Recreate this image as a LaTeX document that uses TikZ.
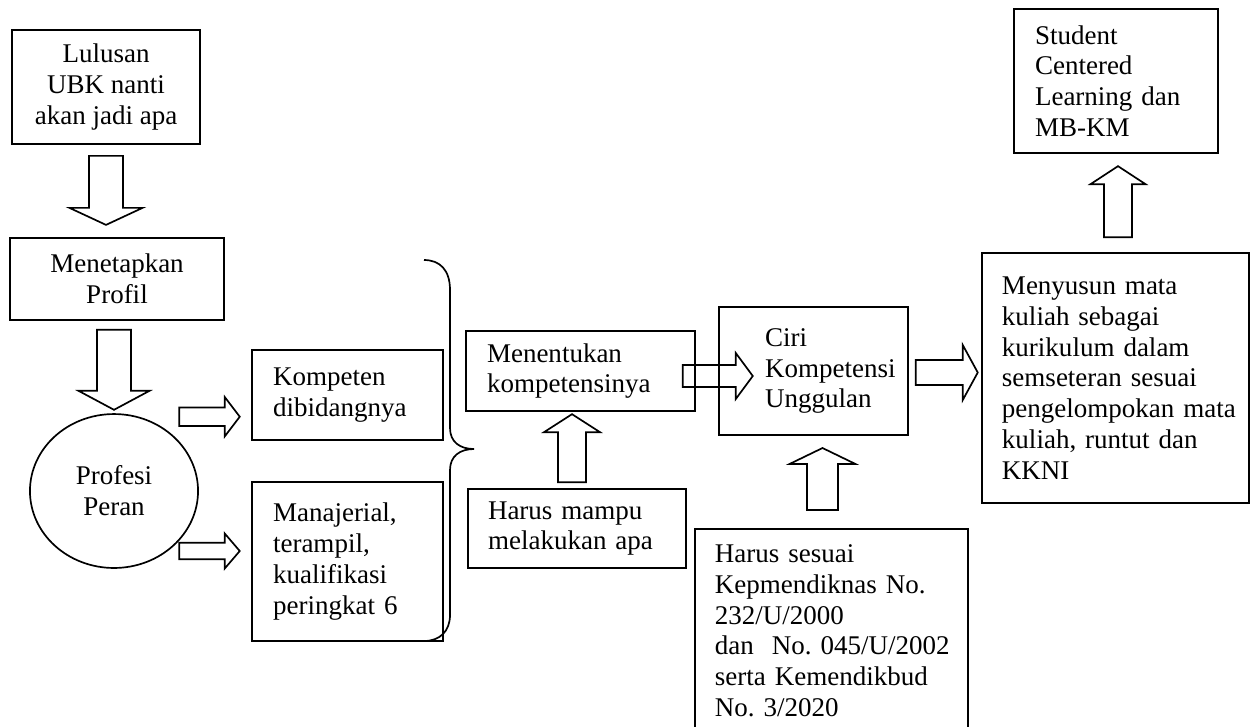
\documentclass[tikz,border=0pt]{standalone}
\usepackage{fontspec}
\setmainfont{Liberation Serif}
\usetikzlibrary{shapes.geometric,calc}
\hyphenpenalty=10000 \exhyphenpenalty=10000 \hfuzz=80pt \frenchspacing
\tikzset{
	pics/blockarrow/.style n args={4}{code={%
		\draw[line width=.75pt] (0,-#2) -- ({#1-#4},-#2) -- ({#1-#4},-#3) -- (#1,0)
		-- ({#1-#4},#3) -- ({#1-#4},#2) -- (0,#2) -- cycle;
	}},
}
\begin{document}
\begin{tikzpicture}[x=0.4444pt, y=0.4444pt, font=\fontsize{12pt}{13.7pt}\selectfont,
		box/.style={draw, line width=.75pt, inner sep=0pt},
		lbox/.style={box, align=left}]
			\useasboundingbox (0,0) rectangle (1251,-726);
			%\draw[color=gray!50,dashed] (0,0) grid[step=50] (1251,-726);
			% kolom kiri
			\node[box, align=center, minimum width=83.6pt, minimum height=50.7pt] (lulusan) at (106,-87) {Lulusan\\ UBK nanti\\ akan jadi apa};
			\node[box, align=center, minimum width=95.1pt, minimum height=36.4pt] (menetapkan) at (117,-279) {Menetapkan\\ Profil};
			\node[box, ellipse, align=center, minimum width=74.7pt, minimum height=68.4pt] (profesi) at (114,-491) {Profesi\\ Peran};
			\node[lbox, text width=66.2pt, inner xsep=9.3pt, minimum height=40pt] (kompeten) at (347.5,-395) {Kompeten\\ dibidangnya};
			\node[lbox, text width=66.2pt, inner xsep=9.3pt, minimum height=70.7pt] (manajerial) at (347.5,-561.5) {Manajerial,\\ terampil,\\ kualifikasi\\ peringkat 6};
			% kolom tengah
			\node[lbox, text width=83.1pt, inner xsep=9.3pt, minimum height=35.6pt] (menentukan) at (580.5,-371) {Menentukan\\ kompetensinya};
			\node[lbox, text width=79.1pt, inner xsep=8.9pt, minimum height=35.1pt] (mampu) at (577,-528.5) {Harus mampu\\ melakukan apa};
			\node[lbox, text width=43.1pt, inner xsep=20.4pt, minimum height=56.9pt] (ciri) at (813.5,-371) {Ciri\\ Kompetensi\\ Unggulan};
			\node[lbox, anchor=north, text width=103.6pt, inner xsep=8.9pt, inner ysep=7pt, text depth=100pt] (sesuai) at (831.5,-528) {Harus sesuai\\ Kepmendiknas No.\\ 232/U/2000\\ dan~~No.~045/U/2002\\ serta Kemendikbud\\ No.~3/2020};
			% kolom kanan
			\node[lbox, text width=100.9pt, inner xsep=8.9pt, minimum height=111.1pt] (menyusun) at (1115.5,-378) {Menyusun mata\\ kuliah sebagai\\ kurikulum dalam\\ semseteran sesuai\\ pengelompokan~mata\\ kuliah, runtut dan\\ KKNI};
			\node[lbox, text width=72pt, inner xsep=9.3pt, minimum height=64pt] (student) at (1116,-81) {Student\\ Centered\\ Learning dan\\ MB-KM};
			% kurung kurawal
			\draw[line width=.75pt] (424,-260) .. controls (440,-260) and (450,-270) .. (450,-290) -- (450,-428)
			.. controls (450,-442) and (460,-449) .. (474,-449) .. controls (460,-449) and (450,-456) .. (450,-470)
			-- (450,-615) .. controls (450,-631) and (440,-641) .. (424,-641);
			% panah blok
			\pic[rotate=-90] at ($(lulusan.south)+(0,-11)$) {blockarrow={69}{17}{36.5}{17}};
			\pic[rotate=-90] at ($(menetapkan.south)+(-3,-9)$) {blockarrow={80}{17}{35.5}{19}};
			\pic at ($(kompeten.west)+(-72,-21.7)$) {blockarrow={60.5}{9.3}{19.7}{15}};
			\pic at ($(manajerial.west)+(-72,10.5)$) {blockarrow={60.5}{8.3}{17.5}{15}};
			\pic at ($(menentukan.east)+(-13,-5)$) {blockarrow={70}{11}{23}{17}};
			\pic[rotate=90] at ($(mampu.north)+(-5,6)$) {blockarrow={68}{14}{28}{18}};
			\pic[rotate=90] at ($(sesuai.north)+(-9,18)$) {blockarrow={62}{15.5}{33}{16}};
			\pic at ($(ciri.east)+(7,-1.5)$) {blockarrow={62}{12.5}{27.5}{15}};
			\pic[rotate=90] at ($(menyusun.north)+(2.5,15)$) {blockarrow={71}{14}{27.5}{18}};
\end{tikzpicture}
\end{document}
